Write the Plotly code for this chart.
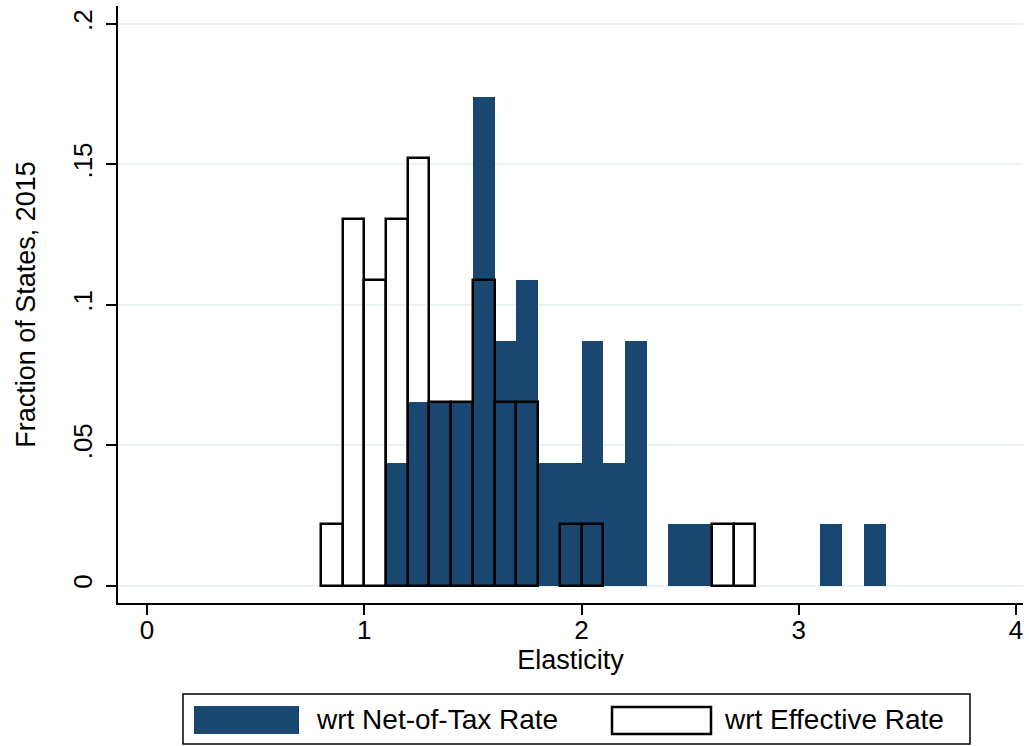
import plotly.graph_objects as go

# Data: histogram bins (width 0.1), fraction of 46 states
bin_left = [0.8, 0.9, 1.0, 1.1, 1.2, 1.3, 1.4, 1.5, 1.6, 1.7, 1.8, 1.9, 2.0, 2.1, 2.2,
            2.3, 2.4, 2.5, 2.6, 2.7, 2.8, 2.9, 3.0, 3.1, 3.2, 3.3]
net_of_tax_counts = [0, 0, 0, 2, 3, 3, 3, 8, 4, 5, 2, 2, 4, 2, 4,
                     0, 1, 1, 0, 0, 0, 0, 0, 1, 0, 1]
effective_counts = [1, 6, 5, 6, 7, 3, 3, 5, 3, 3, 0, 1, 1, 0, 0,
                    0, 0, 0, 1, 1, 0, 0, 0, 0, 0, 0]
n_states = 46
bin_width = 0.1

x_ticks = [0, 1, 2, 3, 4]
y_ticks = [0, 0.05, 0.1, 0.15, 0.2]
y_tick_labels = ["0", ".05", ".1", ".15", ".2"]

net_frac = [c / n_states for c in net_of_tax_counts]
eff_frac = [c / n_states for c in effective_counts]
centers = [round(b + bin_width / 2, 3) for b in bin_left]

NAVY = "#1a476f"
FONT = "Liberation Sans, Arial, sans-serif"

fig = go.Figure()
nx = [c for c, v in zip(centers, net_frac) if v > 0]
ny = [v for v in net_frac if v > 0]
fig.add_trace(go.Bar(x=nx, y=ny, width=bin_width, marker=dict(color=NAVY, line=dict(width=0)),
                     name="wrt Net-of-Tax Rate", showlegend=False))
ex = [c for c, v in zip(centers, eff_frac) if v > 0]
ey = [v for v in eff_frac if v > 0]
fig.add_trace(go.Bar(x=ex, y=ey, width=bin_width,
                     marker=dict(color="rgba(0,0,0,0)", line=dict(color="black", width=2.5)),
                     name="wrt Effective Rate", showlegend=False))

W, H = 1029, 746
L, R, T, B = 118, 1023, 6, 603

def px(x):
    return (x - L) / (R - L)

def py(y):
    return (B - y) / (B - T)

shapes = [
    dict(type="rect", xref="paper", yref="paper", x0=px(183), x1=px(970), y0=py(744), y1=py(694),
         line=dict(color="black", width=1.5), fillcolor="white"),
    dict(type="rect", xref="paper", yref="paper", x0=px(194), x1=px(299), y0=py(734), y1=py(706),
         line=dict(width=0), fillcolor=NAVY),
    dict(type="rect", xref="paper", yref="paper", x0=px(612), x1=px(711), y0=py(734), y1=py(707),
         line=dict(color="black", width=2.5), fillcolor="white"),
]
annotations = [
    dict(text="wrt Net-of-Tax Rate", xref="paper", yref="paper", x=px(314), y=py(719),
         xanchor="left", yanchor="middle", showarrow=False, font=dict(family=FONT, size=28, color="black")),
    dict(text="wrt Effective Rate", xref="paper", yref="paper", x=px(722), y=py(719),
         xanchor="left", yanchor="middle", showarrow=False, font=dict(family=FONT, size=28, color="black")),
]

fig.update_layout(
    width=W, height=H,
    margin=dict(l=L, r=W - R, t=T, b=H - B, pad=0),
    paper_bgcolor="white", plot_bgcolor="white",
    barmode="overlay", bargap=0,
    font=dict(family=FONT, size=26, color="black"),
    shapes=shapes, annotations=annotations,
    showlegend=False,
)
fig.update_xaxes(
    range=[-29 / 217.25, (R - 147) / 217.25],
    tickvals=x_ticks, ticktext=[str(v) for v in x_ticks],
    showgrid=False, zeroline=False,
    showline=True, linecolor="black", linewidth=1.5,
    ticks="outside", ticklen=10, tickwidth=1.5, tickcolor="black",
    tickfont=dict(size=26), ticklabelstandoff=-7,
    title=dict(text="Elasticity", font=dict(size=27), standoff=4),
)
fig.update_yaxes(
    range=[-17.5 / 2807.5, 0.2 + 18 / 2807.5],
    tickvals=y_ticks, ticktext=y_tick_labels, tickangle=-90,
    showgrid=True, gridcolor="#eaf2f3", gridwidth=2, zeroline=False,
    showline=True, linecolor="black", linewidth=1.5,
    ticks="outside", ticklen=10, tickwidth=1.5, tickcolor="black",
    tickfont=dict(size=26), ticklabelstandoff=4,
    title=dict(text="Fraction of States, 2015", font=dict(size=27), standoff=24),
)

fig.write_html("out.html", config={"displayModeBar": False},
               post_script="document.body.style.margin='0';document.body.style.overflow='hidden';")
